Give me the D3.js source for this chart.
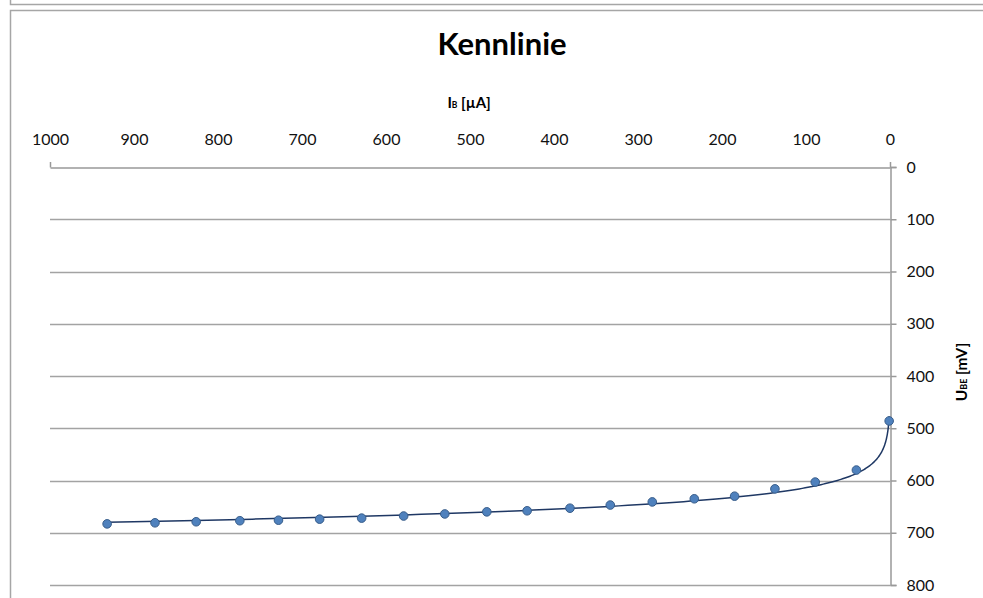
<!DOCTYPE html>
<html>
<head>
<meta charset="utf-8">
<script src="https://cdn.jsdelivr.net/npm/d3@7"></script>
<style>
  html, body { margin: 0; padding: 0; background: #fff; overflow: hidden; }
  svg { display: block; font-family: Lato, "Open Sans", sans-serif; }
</style>
</head>
<body>
<svg id="chart" width="983" height="598"></svg>
<script>
// ---- data ----
const title = "Kennlinie";
const ibValues = [932, 875, 826, 774, 728, 679, 629, 579, 530, 480, 432, 381, 333, 283, 233, 185, 137, 89, 40, 1];   // I_B [µA]
const ubeValues = [683, 681, 679, 677, 676, 674, 672, 668, 664, 660, 658, 653, 647, 641, 635, 630, 616, 603, 580, 486]; // U_BE [mV]
const xTicks = [1000, 900, 800, 700, 600, 500, 400, 300, 200, 100, 0];
const yTicks = [0, 100, 200, 300, 400, 500, 600, 700, 800];

const svg = d3.select("#chart");

// frames
svg.append("rect").attr("x", 10.5).attr("y", -30).attr("width", 1000).attr("height", 34.5)
  .attr("fill", "#fff").attr("stroke", "#a6a6a6").attr("stroke-width", 1.5);
svg.append("rect").attr("x", 10.5).attr("y", 10.5).attr("width", 1000).attr("height", 700)
  .attr("fill", "#fff").attr("stroke", "#a6a6a6").attr("stroke-width", 1.5);

const x = d3.scaleLinear().domain([1000, 0]).range([50, 890]);
const y = d3.scaleLinear().domain([0, 800]).range([167, 585]);

// gridlines
svg.append("g").selectAll("line").data(yTicks.filter(d => d > 0)).join("line")
  .attr("x1", x(1000)).attr("x2", x(0))
  .attr("y1", d => Math.round(y(d)) + 0.5).attr("y2", d => Math.round(y(d)) + 0.5)
  .attr("stroke", "#a3a3a3").attr("stroke-width", 1.6);

// x axis (top, at U=0)
const xAxis = d3.axisTop(x).tickValues(xTicks).tickFormat(d3.format("d")).tickSize(0).tickPadding(0);
const gx = svg.append("g").attr("transform", `translate(0,${Math.round(y(0)) + 0.5})`).call(xAxis);
gx.select(".domain").attr("stroke", "#999").attr("stroke-width", 1.5);
gx.selectAll(".tick text").attr("y", -23).attr("font-size", 16).attr("fill", "#111")
  .attr("font-family", "Lato, sans-serif");
// end tick marks
svg.append("g").selectAll("line").data([1000, 0]).join("line")
  .attr("x1", d => Math.round(x(d)) + 0.5).attr("x2", d => Math.round(x(d)) + 0.5)
  .attr("y1", y(0) - 5).attr("y2", y(0) + 0.5)
  .attr("stroke", "#999").attr("stroke-width", 1.5);

// y axis (right side, at I=0)
const yAxis = d3.axisRight(y).tickValues(yTicks).tickFormat(d3.format("d")).tickSize(6).tickPadding(10);
const gy = svg.append("g").attr("transform", `translate(${Math.round(x(0)) + 0.5},0)`).call(yAxis);
gy.select(".domain").attr("stroke", "#999").attr("stroke-width", 1.5);
gy.selectAll(".tick line").attr("stroke", "#999").attr("stroke-width", 1.5);
gy.selectAll(".tick text").attr("font-size", 16).attr("fill", "#111")
  .attr("font-family", "Lato, sans-serif");

// titles
svg.append("text").attr("x", 502).attr("y", 55).attr("text-anchor", "middle")
  .attr("font-size", 31).attr("font-weight", "bold").attr("fill", "#000").text(title);

const xt = svg.append("text").attr("x", 469).attr("y", 108).attr("text-anchor", "middle")
  .attr("font-size", 15).attr("font-weight", "bold").attr("fill", "#000");
xt.append("tspan").text("I");
xt.append("tspan").attr("font-size", 8.5).text("B");
xt.append("tspan").text(" [µA]");

const yt = svg.append("text").attr("transform", "translate(967,372) rotate(-90)")
  .attr("text-anchor", "middle").attr("font-size", 15.5).attr("font-weight", "bold").attr("fill", "#000");
yt.append("tspan").text("U");
yt.append("tspan").attr("font-size", 9).text("BE");
yt.append("tspan").text(" [mV]");

// logarithmic trendline (least squares fit of U = a·ln(I) + b over the data)
const lx = ibValues.map(v => Math.log(v));
const mx = d3.mean(lx), my = d3.mean(ubeValues);
const a = d3.sum(lx.map((v, i) => (v - mx) * (ubeValues[i] - my))) / d3.sum(lx.map(v => (v - mx) * (v - mx)));
const b = my - a * mx;
const lo = d3.min(ibValues), hi = d3.max(ibValues);
const trend = d3.range(0, 201).map(i => Math.exp(Math.log(lo) + (Math.log(hi) - Math.log(lo)) * i / 200));
svg.append("path").datum(trend)
  .attr("d", d3.line().x(d => x(d)).y(d => y(a * Math.log(d) + b)))
  .attr("fill", "none").attr("stroke", "#1f3864").attr("stroke-width", 1.5);

// markers
svg.append("g").selectAll("circle").data(ibValues.map((v, i) => [v, ubeValues[i]])).join("circle")
  .attr("cx", d => x(d[0])).attr("cy", d => y(d[1])).attr("r", 4.3)
  .attr("fill", "#4f81bd").attr("stroke", "#385d8a").attr("stroke-width", 1);
</script>
</body>
</html>
